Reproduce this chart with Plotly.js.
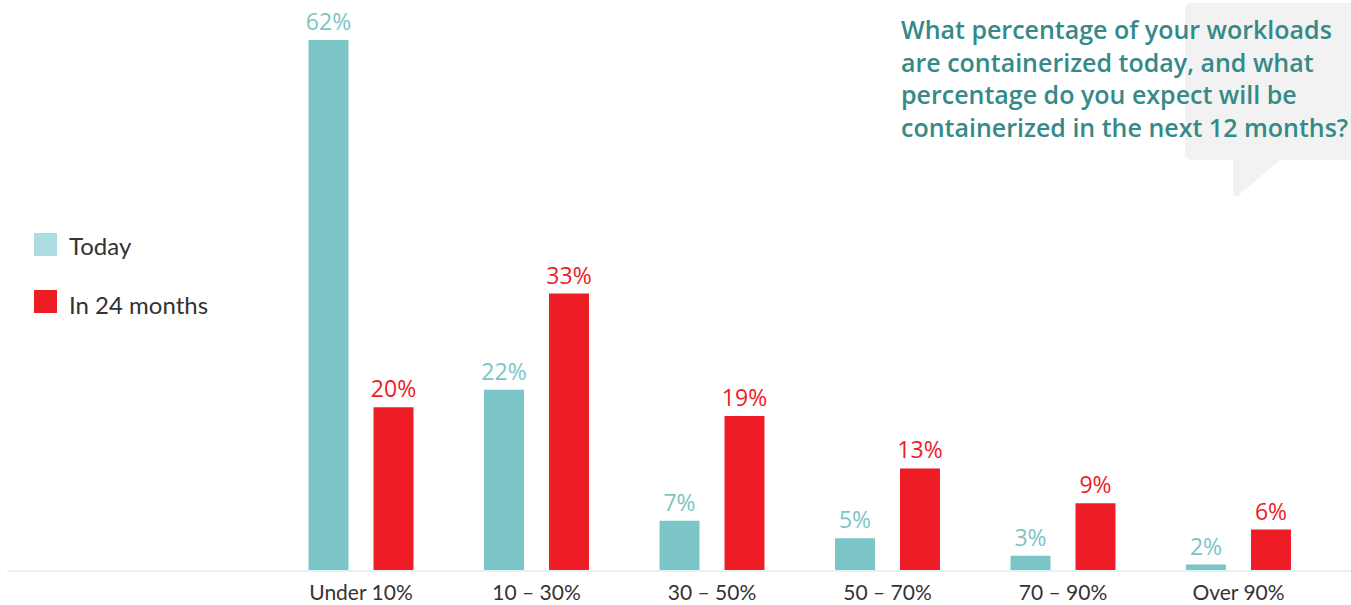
<!DOCTYPE html>
<html>
<head>
<meta charset="utf-8">
<script src="https://cdn.plot.ly/plotly-3.0.1.min.js"></script>
<style>html,body{margin:0;padding:0;background:#fff;}#chart{width:1351px;height:605px;}</style>
</head>
<body>
<div id="chart"></div>
<script>
const categories = ["Under 10%", "10 – 30%", "30 – 50%", "50 – 70%", "70 – 90%", "Over 90%"];
const today = [62, 22, 7, 5, 3, 2];
const in24 = [20, 33, 19, 13, 9, 6];
const seriesNames = ["Today", "In 24 months"];
const titleText = "What percentage of your workloads<br>are containerized today, and what<br>percentage do you expect will be<br>containerized in the next 12 months?";

const W = 1351, H = 605;
const L = 7, R = 0, T = 5, B = 35;
const pw = W - L - R, ph = H - T - B;
const fx = p => (p - L) / pw;
const fy = p => (H - B - p) / ph;

const teal = "#7cc5c6", tealLegend = "#acdcdf", red = "#ee1c25";
const FONT = "Lato, 'Open Sans', sans-serif";
const FONT2 = "'Open Sans', sans-serif";

const traces = [
  {type: "bar", name: seriesNames[0], x: categories, y: today,
   text: today.map(v => v + "%"), textposition: "outside", cliponaxis: false, constraintext: "none",
   textfont: {family: FONT2, size: 23, color: teal},
   marker: {color: teal}, hoverinfo: "skip", showlegend: false},
  {type: "bar", name: seriesNames[1], x: categories, y: in24,
   text: in24.map(v => v + "%"), textposition: "outside", cliponaxis: false, constraintext: "none",
   textfont: {family: FONT2, size: 23, color: red},
   marker: {color: red}, hoverinfo: "skip", showlegend: false}
];

function bubblePath(x0, y0, x1, y1, r) {
  const P = (x, y) => fx(x) + "," + fy(y);
  return "M" + P(x0 + r, y0) + " L" + P(x1, y0) + " L" + P(x1, y1) +
    " L" + P(1280, y1) + " L" + P(1239, 195) + " Q" + P(1233, 199) + " " + P(1233, 192) +
    " L" + P(1233, y1) + " L" + P(x0 + r, y1) + " Q" + P(x0, y1) + " " + P(x0, y1 - r) +
    " L" + P(x0, y0 + r) + " Q" + P(x0, y0) + " " + P(x0 + r, y0) + " Z";
}

const shapes = [
  {type: "path", xref: "paper", yref: "paper", layer: "below",
   path: bubblePath(1185, 3, 1365, 160, 8), fillcolor: "#f2f2f2", line: {width: 0}},
  {type: "rect", xref: "paper", yref: "paper", x0: fx(34), x1: fx(57), y0: fy(256), y1: fy(233),
   fillcolor: tealLegend, line: {width: 0}},
  {type: "rect", xref: "paper", yref: "paper", x0: fx(34), x1: fx(57), y0: fy(313), y1: fy(290),
   fillcolor: red, line: {width: 0}}
];

const annotations = [
  {xref: "paper", yref: "paper", x: fx(899), y: fy(10), xanchor: "left", yanchor: "top",
   align: "left", showarrow: false, text: titleText,
   font: {family: FONT2, size: 25, weight: 600, color: "#358a88"}},
  {xref: "paper", yref: "paper", x: fx(67), y: fy(245), xanchor: "left", yanchor: "middle",
   showarrow: false, text: seriesNames[0], font: {family: FONT, size: 24, color: "#333"}},
  {xref: "paper", yref: "paper", x: fx(67), y: fy(304), xanchor: "left", yanchor: "middle",
   showarrow: false, text: seriesNames[1], font: {family: FONT, size: 24, color: "#333"}}
];

const spacing = 175.5, c0 = 361;
const xr0 = -(c0 - L) / spacing;
const xr1 = xr0 + pw / spacing;
const k = 8.74, zeroOffset = 12;
const yr0 = zeroOffset / k, yr1 = yr0 + ph / k;

const layout = {
  width: W, height: H,
  margin: {l: L, r: R, t: T, b: B, pad: 0},
  paper_bgcolor: "#fff", plot_bgcolor: "#fff",
  barmode: "group", bargap: 0.2593, bargroupgap: 0.385,
  showlegend: false,
  xaxis: {type: "category", range: [xr0, xr1], showgrid: false, zeroline: false,
          showline: true, linecolor: "#e3f3f4", linewidth: 2, ticks: "", ticklabelstandoff: 3,
          tickfont: {family: FONT, size: 21, color: "#333"}, fixedrange: true},
  yaxis: {range: [yr0, yr1], visible: false, showgrid: false, zeroline: false, fixedrange: true},
  shapes: shapes, annotations: annotations
};

Plotly.newPlot("chart", traces, layout, {staticPlot: true, displayModeBar: false});
</script>
</body>
</html>
